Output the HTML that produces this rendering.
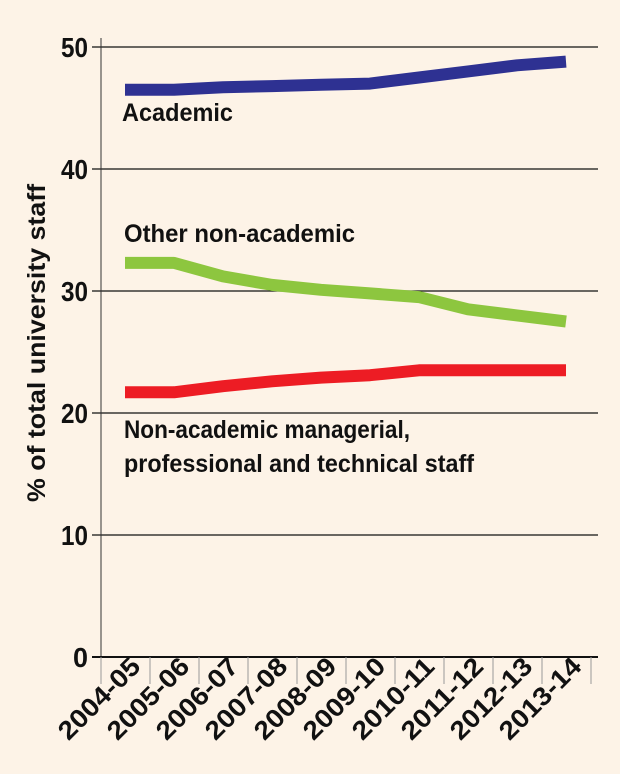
<!DOCTYPE html>
<html><head><meta charset="utf-8"><style>
body{margin:0;background:#fdf3e7;}
svg{display:block;font-family:"Liberation Sans",sans-serif;font-weight:bold;}
</style></head><body>
<svg width="620" height="774" viewBox="0 0 620 774">
<rect width="620" height="774" fill="#fdf3e7"/>
<g stroke="#111" stroke-width="1.3">
<line x1="92" y1="47" x2="598" y2="47"/>
<line x1="92" y1="169" x2="598" y2="169"/>
<line x1="92" y1="291" x2="598" y2="291"/>
<line x1="92" y1="413" x2="598" y2="413"/>
<line x1="92" y1="535" x2="598" y2="535"/>
</g>
<line x1="101" y1="38" x2="101" y2="657" stroke="#333" stroke-width="1"/>
<line x1="92" y1="657" x2="598" y2="657" stroke="#111" stroke-width="2"/>
<g stroke="#999" stroke-width="1">
<line x1="101" y1="657" x2="101" y2="684"/><line x1="150" y1="657" x2="150" y2="684"/><line x1="199" y1="657" x2="199" y2="684"/><line x1="248" y1="657" x2="248" y2="684"/><line x1="297" y1="657" x2="297" y2="684"/><line x1="346" y1="657" x2="346" y2="684"/><line x1="395" y1="657" x2="395" y2="684"/><line x1="444" y1="657" x2="444" y2="684"/><line x1="493" y1="657" x2="493" y2="684"/><line x1="542" y1="657" x2="542" y2="684"/><line x1="591" y1="657" x2="591" y2="684"/>
</g>
<g font-size="28" fill="#111">
<text x="61" y="57" textLength="27" lengthAdjust="spacingAndGlyphs">50</text>
<text x="61" y="179" textLength="27" lengthAdjust="spacingAndGlyphs">40</text>
<text x="61" y="301" textLength="27" lengthAdjust="spacingAndGlyphs">30</text>
<text x="61" y="423" textLength="27" lengthAdjust="spacingAndGlyphs">20</text>
<text x="61" y="545" textLength="27" lengthAdjust="spacingAndGlyphs">10</text>
<text x="73" y="667" textLength="15" lengthAdjust="spacingAndGlyphs">0</text>
</g>
<text transform="translate(45,343) rotate(-90)" text-anchor="middle" font-size="25" fill="#111" textLength="318" lengthAdjust="spacingAndGlyphs">% of total university staff</text>
<g fill="none" stroke-width="12" stroke-linejoin="round">
<polyline stroke="#2e3192" points="125,89.7 174,89.7 223,87.3 272,86.1 321,84.8 370,83.6 419,77.5 468,71.4 517,65.3 566,61.6"/>
<polyline stroke="#8dc63f" points="125,262.9 174,262.9 223,276.4 272,284.9 321,289.8 370,293.4 419,297.1 468,309.3 517,315.4 566,321.5"/>
<polyline stroke="#ed1c24" points="125,392.3 174,392.3 223,386.2 272,381.3 321,377.6 370,375.2 419,370.3 468,370.3 517,370.3 566,370.3"/>
</g>
<g font-size="25" fill="#111">
<text x="122" y="121" textLength="111" lengthAdjust="spacingAndGlyphs">Academic</text>
<text x="124" y="242" textLength="231" lengthAdjust="spacingAndGlyphs">Other non-academic</text>
<text x="124" y="438" textLength="286" lengthAdjust="spacingAndGlyphs">Non-academic managerial,</text>
<text x="124" y="472" textLength="350" lengthAdjust="spacingAndGlyphs">professional and technical staff</text>
</g>
<g font-size="26" fill="#111" text-anchor="end">
<text transform="translate(142,668) rotate(-45)" textLength="104" lengthAdjust="spacingAndGlyphs">2004-05</text>
<text transform="translate(191,668) rotate(-45)" textLength="104" lengthAdjust="spacingAndGlyphs">2005-06</text>
<text transform="translate(240,668) rotate(-45)" textLength="104" lengthAdjust="spacingAndGlyphs">2006-07</text>
<text transform="translate(289,668) rotate(-45)" textLength="104" lengthAdjust="spacingAndGlyphs">2007-08</text>
<text transform="translate(338,668) rotate(-45)" textLength="104" lengthAdjust="spacingAndGlyphs">2008-09</text>
<text transform="translate(387,668) rotate(-45)" textLength="104" lengthAdjust="spacingAndGlyphs">2009-10</text>
<text transform="translate(436,668) rotate(-45)" textLength="104" lengthAdjust="spacingAndGlyphs">2010-11</text>
<text transform="translate(485,668) rotate(-45)" textLength="104" lengthAdjust="spacingAndGlyphs">2011-12</text>
<text transform="translate(534,668) rotate(-45)" textLength="104" lengthAdjust="spacingAndGlyphs">2012-13</text>
<text transform="translate(583,668) rotate(-45)" textLength="104" lengthAdjust="spacingAndGlyphs">2013-14</text>
</g>
</svg>
</body></html>
